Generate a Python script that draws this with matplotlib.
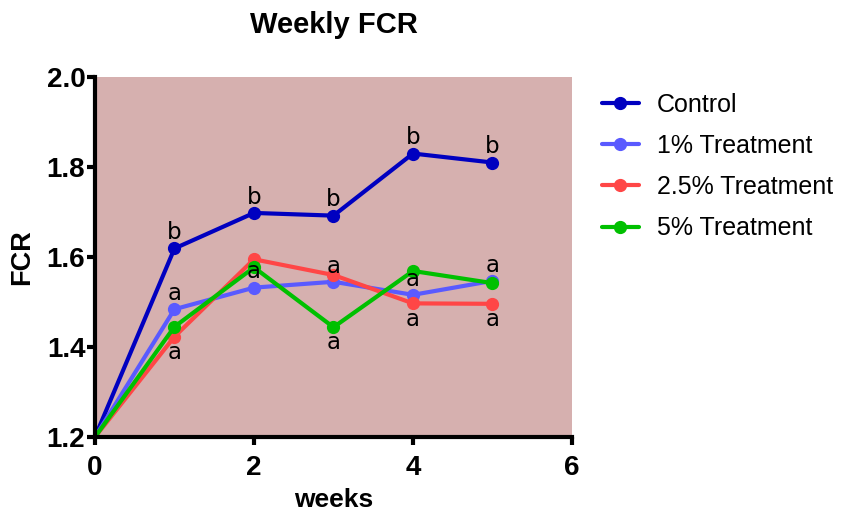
import matplotlib
matplotlib.use("Agg")
import matplotlib.pyplot as plt

weeks = [0, 1, 2, 3, 4, 5]
control = [1.2, 1.619, 1.698, 1.692, 1.830, 1.810]
t1 = [1.2, 1.484, 1.532, 1.545, 1.516, 1.547]
t25 = [1.2, 1.423, 1.595, 1.560, 1.497, 1.496]
t5 = [1.2, 1.445, 1.577, 1.444, 1.569, 1.542]

series_names = ["Control", "1% Treatment", "2.5% Treatment", "5% Treatment"]
series_values = [control, t1, t25, t5]
colors = ["#0000C0", "#5A5AFF", "#FF4646", "#00C000"]

# significance letters: (series index, week, letter, side)
letters = [
    (0, 1, "b", "above"), (0, 2, "b", "above"), (0, 3, "b", "above"),
    (0, 4, "b", "above"), (0, 5, "b", "above"),
    (1, 1, "a", "above"), (1, 2, "a", "above"), (1, 3, "a", "above"),
    (1, 4, "a", "above"), (1, 5, "a", "above"),
    (2, 1, "a", "below"), (2, 4, "a", "below"), (2, 5, "a", "below"),
    (3, 3, "a", "below"),
]

fig = plt.figure(figsize=(8.45, 5.17), dpi=100)
ax = fig.add_axes([0.1124, 0.1547, 0.5645, 0.6963])
ax.set_facecolor("#D6B0AF")

for name, vals, c in zip(series_names, series_values, colors):
    ax.plot(weeks, vals, color=c, lw=3.0, marker="o", ms=8.5,
            markevery=slice(1, None), label=name, solid_capstyle="round")

for si, wk, txt, side in letters:
    y = series_values[si][weeks.index(wk)]
    off = 3 if side == "above" else -3
    va = "bottom" if side == "above" else "top"
    ax.annotate(txt, (wk, y), xytext=(0, off), textcoords="offset points",
                ha="center", va=va, fontsize=16.5, family="DejaVu Sans")

ax.set_xlim(0, 6)
ax.set_ylim(1.2, 2.0)
ax.set_xticks([0, 2, 4, 6])
ax.set_yticks([1.2, 1.4, 1.6, 1.8, 2.0])
ax.set_yticklabels(["1.2", "1.4", "1.6", "1.8", "2.0"])
for s in ["top", "right"]:
    ax.spines[s].set_visible(False)
for s in ["left", "bottom"]:
    ax.spines[s].set_linewidth(3)
ax.tick_params(width=3, length=6, direction="out")
ax.tick_params(axis="x", pad=7)
ax.tick_params(axis="y", pad=1)
for lab in ax.get_xticklabels() + ax.get_yticklabels():
    lab.set_fontfamily("Liberation Sans")
    lab.set_fontweight("bold")
    lab.set_fontsize(20)

ax.set_xlabel("weeks", fontsize=19, fontweight="bold", family="Liberation Sans", labelpad=5)
ax.set_ylabel("FCR", fontsize=19.5, fontweight="bold", family="Liberation Sans", labelpad=8)
fig.text(0.395, 0.952, "Weekly FCR", ha="center", va="center", fontsize=21,
         fontweight="bold", family="Liberation Sans")

fig.legend(loc="upper left", bbox_to_anchor=(0.712, 0.821), frameon=False,
           prop={"family": "Liberation Sans", "size": 18}, handlelength=1.5,
           labelspacing=0.69, handletextpad=0.72, borderpad=0, borderaxespad=0)

fig.savefig("out.png", dpi=100)
